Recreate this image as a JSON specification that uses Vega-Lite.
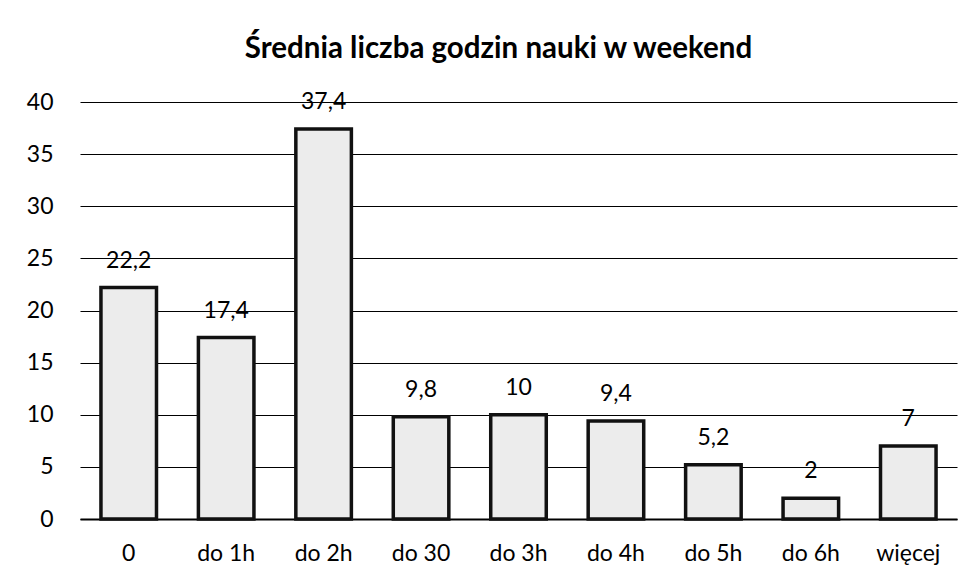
{
  "$schema": "https://vega.github.io/schema/vega-lite/v6.json",
  "width": 877,
  "height": 417,
  "autosize": {"type": "none"},
  "padding": {"left": 80, "top": 102, "right": 20, "bottom": 63},
  "background": "white",
  "config": {
    "view": {"stroke": null},
    "font": "Lato",
    "locale": {"number": {"decimal": ",", "thousands": " ", "grouping": [3], "currency": ["", " zł"]}}
  },
  "title": {
    "text": "Średnia liczba godzin nauki w weekend",
    "font": "Lato",
    "fontSize": 29.5,
    "fontWeight": "bold",
    "color": "#000",
    "anchor": "middle",
    "baseline": "alphabetic",
    "dx": -20,
    "offset": 4
  },
  "data": {
    "values": [
      {"kategoria": "0", "wartosc": 22.2},
      {"kategoria": "do 1h", "wartosc": 17.4},
      {"kategoria": "do 2h", "wartosc": 37.4},
      {"kategoria": "do 30", "wartosc": 9.8},
      {"kategoria": "do 3h", "wartosc": 10},
      {"kategoria": "do 4h", "wartosc": 9.4},
      {"kategoria": "do 5h", "wartosc": 5.2},
      {"kategoria": "do 6h", "wartosc": 2},
      {"kategoria": "więcej", "wartosc": 7}
    ]
  },
  "encoding": {
    "x": {
      "field": "kategoria",
      "type": "nominal",
      "sort": null,
      "scale": {"paddingInner": 0.43, "paddingOuter": 0.215},
      "axis": {
        "title": null,
        "labelAngle": 0,
        "labelFontSize": 23,
        "labelColor": "#000",
        "labelPadding": 23,
        "ticks": false,
        "domainColor": "#000",
        "domainWidth": 2
      }
    },
    "y": {
      "field": "wartosc",
      "type": "quantitative",
      "scale": {"domain": [0, 40]},
      "axis": {
        "title": null,
        "values": [0, 5, 10, 15, 20, 25, 30, 35, 40],
        "labelFontSize": 23,
        "labelColor": "#000",
        "labelPadding": 27,
        "ticks": false,
        "domain": false,
        "grid": true,
        "gridColor": "#000",
        "gridWidth": 1.2
      }
    }
  },
  "layer": [
    {
      "mark": {"type": "bar", "fill": "#ececec", "stroke": "#111", "strokeWidth": 3.5}
    },
    {
      "mark": {"type": "text", "baseline": "alphabetic", "dy": -20, "fontSize": 23, "color": "#000"},
      "encoding": {"text": {"field": "wartosc", "type": "quantitative", "format": ".3~g"}}
    }
  ]
}
